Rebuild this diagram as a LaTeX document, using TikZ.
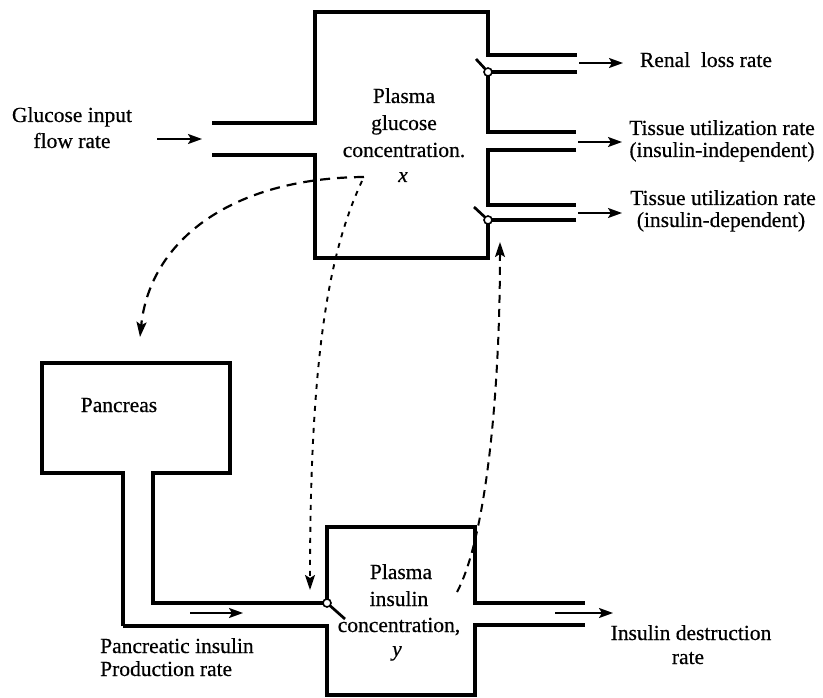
\documentclass[tikz,border=0pt]{standalone}
\usepackage{fontspec}
\setmainfont{Liberation Serif}
\usetikzlibrary{arrows.meta}
\begin{document}
\begin{tikzpicture}[x=1pt,y=-1pt,
  wall/.style={line width=3.4pt, line join=miter, line cap=butt},
  flow/.style={line width=2.1pt, -{Stealth[length=14pt,width=10pt,inset=3pt]}},
  arm/.style={line width=2.7pt},
  valve/.style={circle, draw, fill=white, line width=1.6pt, minimum size=8pt, inner sep=0pt},
  lbl/.style={font=\fontsize{21.5}{24}\selectfont\addfontfeature{FakeBold=0.5}, inner sep=0pt, anchor=base},
  sigA/.style={line width=2.2pt, dash pattern=on 10pt off 7pt, -{Stealth[length=15pt,width=10pt,inset=3pt]}},
  sigB/.style={line width=1.9pt, dash pattern=on 5pt off 6pt, -{Stealth[length=15pt,width=10pt,inset=3pt]}},
  sigC/.style={line width=2pt, dash pattern=on 8pt off 6pt, -{Stealth[length=15pt,width=10pt,inset=3pt]}}
]
\useasboundingbox (0,0) rectangle (823,698);

% ---- plasma glucose compartment ----
\draw[wall] (212,123) -- (315,123) -- (315,12) -- (488,12) -- (488,55) -- (577,55);
\draw[wall] (577,72) -- (488,72) -- (488,132) -- (576,132);
\draw[wall] (576,150) -- (488,150) -- (488,205) -- (576,205);
\draw[wall] (576,220) -- (488,220) -- (488,258) -- (315,258) -- (315,155) -- (212,155);
\draw[arm] (488,72) -- (476,59);
\draw[arm] (488,220) -- (474,207);
\node[valve] (v1) at (488,72) {};
\node[valve] (v2) at (488,220) {};

% ---- pancreas and plasma insulin compartment ----
\draw[wall] (123,626) -- (123,473) -- (42,473) -- (42,363) -- (230,363) -- (230,473) -- (153,473) -- (153,603) -- (327,603) -- (327,527) -- (475,527) -- (475,603) -- (585,603);
\draw[wall] (123,626) -- (327,626) -- (327,695) -- (475,695) -- (475,625) -- (585,625);
\draw[arm] (327,603) -- (345,619);
\node[valve] (v3) at (327,603) {};

% ---- flow arrows ----
\coordinate (gA) at (157,139); \coordinate (gB) at (202,139);
\coordinate (r1A) at (579,63); \coordinate (r1B) at (623,63);
\coordinate (r2A) at (578,142); \coordinate (r2B) at (622,142);
\coordinate (r3A) at (578,213); \coordinate (r3B) at (622,213);
\coordinate (pA) at (190,613); \coordinate (pB) at (243,613);
\coordinate (dA) at (555,613); \coordinate (dB) at (613,613);
\draw[flow] (gA) -- (gB);
\draw[flow] (r1A) -- (r1B);
\draw[flow] (r2A) -- (r2B);
\draw[flow] (r3A) -- (r3B);
\draw[flow] (pA) -- (pB);
\draw[flow] (dA) -- (dB);

% ---- signals ----
\coordinate (xs) at (364,177);
\coordinate (xs2) at (362,181);
\coordinate (panc) at (140,337);
\coordinate (ins) at (310,590);
\coordinate (ys) at (457,592);
\coordinate (vt) at (500,242);
\draw[sigA] (xs) .. controls (232,178) and (150,240) .. (panc);
\draw[sigB] (xs2) .. controls (330,250) and (310,350) .. (ins);
\draw[sigC] (ys) .. controls (485,540) and (500,400) .. (vt);

% ---- labels ----
\node[lbl] (g1) at (72,122) {Glucose input};
\node[lbl] (g2) at (72,148) {flow rate};
\node[lbl] (pg1) at (404,103) {Plasma};
\node[lbl] (pg2) at (404,130) {glucose};
\node[lbl] (pg3) at (404,157) {concentration.};
\node[lbl] (pg4) at (403,182) {\itshape x};
\node[lbl] (rl) at (706,67) {Renal\ \ loss rate};
\node[lbl] (t1) at (722,135) {Tissue utilization rate};
\node[lbl] (t2) at (722,157) {(insulin-independent)};
\node[lbl] (t3) at (723,205) {Tissue utilization rate};
\node[lbl] (t4) at (721,227) {(insulin-dependent)};
\node[lbl] (pn) at (119,412) {Pancreas};
\node[lbl, anchor=base west] (pr1) at (100,653) {Pancreatic insulin};
\node[lbl, anchor=base west] (pr2) at (100,676) {Production rate};
\node[lbl] (pi1) at (401,579) {Plasma};
\node[lbl] (pi2) at (399,606) {insulin};
\node[lbl] (pi3) at (399,632) {concentration,};
\node[lbl] (pi4) at (397,656) {\itshape y};
\node[lbl] (id1) at (691,640) {Insulin destruction};
\node[lbl] (id2) at (688,664) {rate};
\end{tikzpicture}
\end{document}
